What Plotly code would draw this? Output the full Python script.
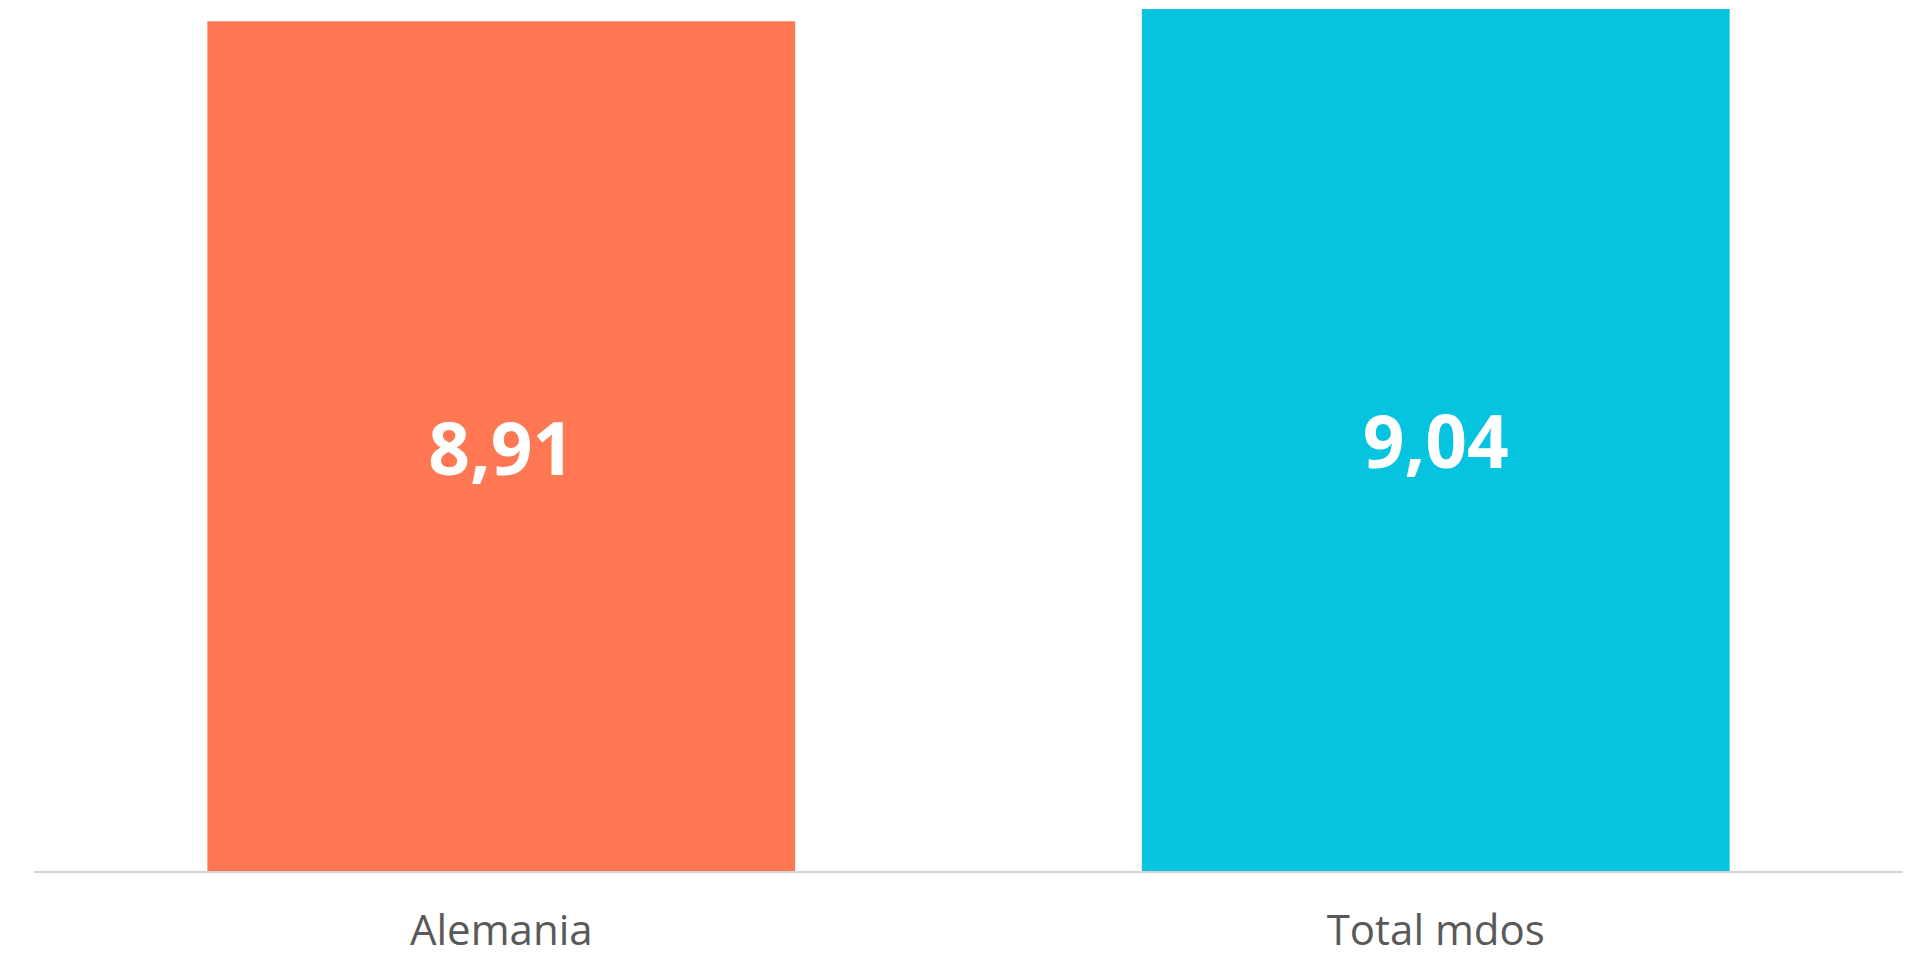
import plotly.graph_objects as go

categories = ["Alemania", "Total mdos"]
values = [8.91, 9.04]
colors = ["#FF7853", "#06C3E0"]

fig = go.Figure(
    go.Bar(
        x=categories,
        y=values,
        marker=dict(color=colors, line=dict(width=0)),
        texttemplate="%{y:.2f}",
        textposition="inside",
        insidetextanchor="middle",
        textangle=0,
        textfont=dict(family="Open Sans", size=73, color="white", weight="bold"),
        cliponaxis=False,
    )
)

fig.update_layout(
    width=1919,
    height=955,
    margin=dict(l=26, r=24, t=0, b=92),
    paper_bgcolor="white",
    plot_bgcolor="white",
    bargap=0.371,
    separators=",.",
    showlegend=False,
    xaxis=dict(
        showline=True,
        linecolor="#D4D4D4",
        linewidth=2,
        showgrid=False,
        ticks="",
        tickfont=dict(family="Open Sans", size=42, color="#595959"),
        ticklabelstandoff=22,
        automargin=False,
    ),
    yaxis=dict(
        range=[0, 9.05],
        visible=False,
        showgrid=False,
        zeroline=False,
        automargin=False,
    ),
)

fig.write_html("out.html")
